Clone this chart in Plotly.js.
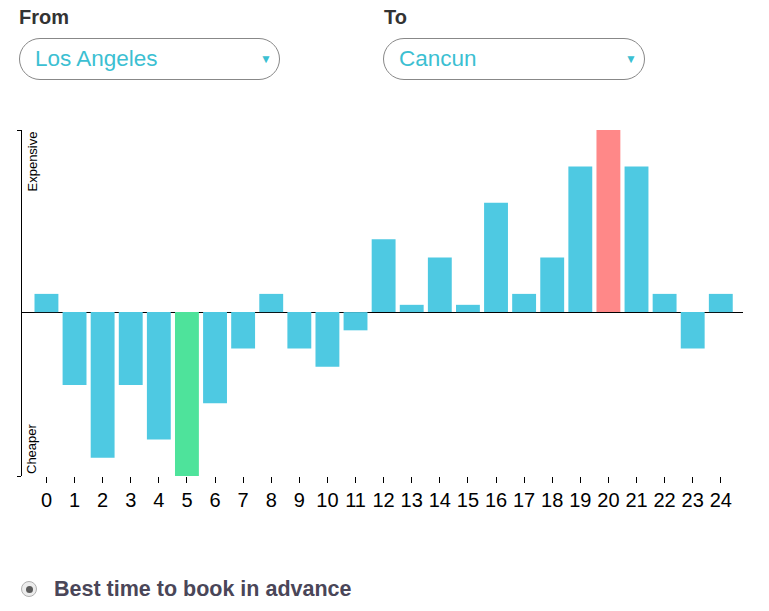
<!DOCTYPE html>
<html>
<head>
<meta charset="utf-8">
<script src="https://cdn.plot.ly/plotly-3.0.1.min.js"></script>
<style>
  html, body { margin: 0; padding: 0; background: #fff; width: 769px; height: 611px; overflow: hidden; font-family: "Liberation Sans", Arial, sans-serif; }
  #chart { position: absolute; left: 0; top: 0; width: 769px; height: 611px; }
  .lbl { position: absolute; font-weight: bold; font-size: 20px; color: #333; }
  .sel { position: absolute; box-sizing: border-box; border: 1px solid #888; border-radius: 21px; height: 42px; background: #fff; }
  .sel span.txt { position: absolute; left: 15px; top: 7px; font-size: 22.5px; color: #3cbfd2; line-height: 26px; }
  .sel span.arr { position: absolute; right: 7px; top: 13px; font-size: 12px; color: #3cbfd2; }
  .radio { position: absolute; left: 21px; top: 581px; width: 16px; height: 16px; box-sizing: border-box; border-radius: 50%; border: 1px solid #b0b0b0; background: #ececec; }
  .radio::after { content: ""; position: absolute; left: 3.5px; top: 3.5px; width: 7px; height: 7px; border-radius: 50%; background: #5a5a5a; }
  .best { position: absolute; left: 54px; top: 577px; font-size: 21.5px; font-weight: bold; color: #4a4658; }
</style>
</head>
<body>
<div id="chart"></div>
<div class="lbl" style="left:19px; top:6px;">From</div>
<div class="sel" style="left:19px; top:38px; width:261px;"><span class="txt">Los Angeles</span><span class="arr">▼</span></div>
<div class="lbl" style="left:384px; top:6px;">To</div>
<div class="sel" style="left:383px; top:38px; width:262px;"><span class="txt">Cancun</span><span class="arr">▼</span></div>
<div class="radio"></div>
<div class="best">Best time to book in advance</div>
<script>
const days = [0,1,2,3,4,5,6,7,8,9,10,11,12,13,14,15,16,17,18,19,20,21,22,23,24];
const priceIndex = [1,-4,-8,-4,-7,-9,-5,-2,1,-2,-3,-1,4,0.4,3,0.4,6,1,3,8,10,8,1,-2,1];
const cheapestDay = 5;
const priciestDay = 20;
const tickLabels = days.map(String);

const colors = days.map(d => d === cheapestDay ? '#4ee39b' : (d === priciestDay ? '#ff8888' : '#4ec9e2'));

const trace = {
  type: 'bar',
  x: days,
  y: priceIndex,
  marker: { color: colors, line: { width: 0 } },
  hoverinfo: 'none'
};

const layout = {
  width: 769, height: 611,
  margin: { l: 22, r: 26, t: 130, b: 135 },
  paper_bgcolor: 'rgba(0,0,0,0)',
  plot_bgcolor: 'rgba(0,0,0,0)',
  showlegend: false,
  bargap: 0.15,
  font: { family: '"Liberation Sans", Arial, sans-serif', color: '#000' },
  xaxis: {
    range: [-0.87, 24.79],
    tickvals: days,
    ticktext: tickLabels,
    ticks: 'outside', ticklen: 6, tickwidth: 1, tickcolor: '#000',
    tickfont: { size: 20, color: '#000' },
    showgrid: false, zeroline: false, showline: false,
    fixedrange: true
  },
  yaxis: {
    range: [-9, 10],
    showgrid: false,
    zeroline: true, zerolinecolor: '#000', zerolinewidth: 1,
    showline: true, linecolor: '#000', linewidth: 1,
    tickvals: [-9, 10], ticks: 'outside', ticklen: 4, tickcolor: '#000',
    showticklabels: false,
    fixedrange: true
  },
  annotations: [
    { xref: 'paper', yref: 'paper', x: 0, y: 1, xanchor: 'left', yanchor: 'top', xshift: 0,
      text: 'Expensive', textangle: -90, showarrow: false, font: { size: 13, color: '#000' } },
    { xref: 'paper', yref: 'paper', x: 0, y: 0, xanchor: 'left', yanchor: 'bottom', xshift: 0,
      text: 'Cheaper', textangle: -90, showarrow: false, font: { size: 13, color: '#000' } }
  ]
};

Plotly.newPlot('chart', [trace], layout, { displayModeBar: false, staticPlot: true });
</script>
</body>
</html>
